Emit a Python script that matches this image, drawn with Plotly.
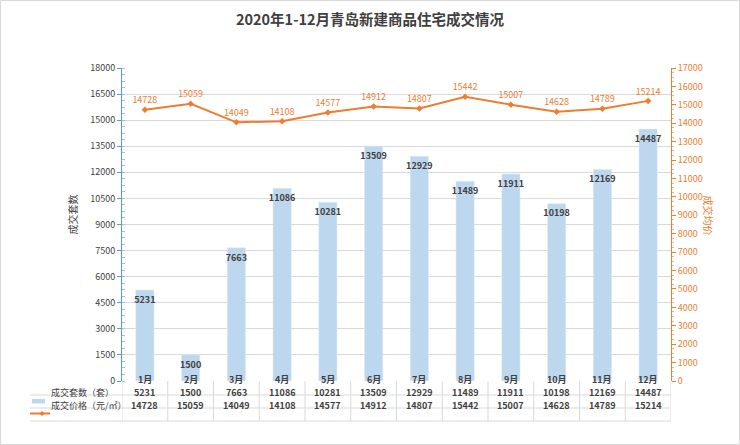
import plotly.graph_objects as go

months = ["1月", "2月", "3月", "4月", "5月", "6月", "7月", "8月", "9月", "10月", "11月", "12月"]
counts = [5231, 1500, 7663, 11086, 10281, 13509, 12929, 11489, 11911, 10198, 12169, 14487]
prices = [14728, 15059, 14049, 14108, 14577, 14912, 14807, 15442, 15007, 14628, 14789, 15214]
count_name = "成交套数（套）"
price_name = "成交价格（元/㎡）"

BAR = "#BDD7EE"
ORANGE = "#ED7D31"
TXT = "#404040"
GRID = "#D9D9D9"
FONT = "Noto Sans CJK SC, Noto Sans, sans-serif"

W, H = 740, 445
L, R, T, B = 122, 69, 68, 64
PW, PH = W - L - R, H - T - B

def py(p):  # pixel y -> paper y
    return (H - B - p) / PH

def px(p):
    return (p - L) / PW

xs = list(range(12))
fig = go.Figure()
fig.add_trace(go.Bar(x=xs, y=counts, name=count_name, marker_color=BAR, width=0.4,
                     hoverinfo="skip"))
fig.add_trace(go.Scatter(x=xs, y=counts, mode="markers+text", text=[f"<b>{v}</b>" for v in counts],
                         marker=dict(size=8, opacity=0), hoverinfo="skip",
                         textposition="bottom center", cliponaxis=False, showlegend=False,
                         textfont=dict(size=9, color=TXT, family=FONT)))
fig.add_trace(go.Scatter(x=xs, y=prices, name=price_name, yaxis="y2",
                         mode="lines+markers+text", line=dict(color=ORANGE, width=2),
                         marker=dict(size=5, color=ORANGE, symbol="diamond"),
                         text=[str(v) for v in prices], textposition="top center",
                         textfont=dict(size=9, color=ORANGE, family=FONT), cliponaxis=False))

shapes = []
annotations = []
rows_y = [388, 401.5, 414]
line_y = [381, 395, 408, 421]
for i, m in enumerate(months):
    annotations.append(dict(x=i, y=py(rows_y[0]), xref="x", yref="paper", text=f"<b>{m}</b>",
                            showarrow=False, font=dict(size=9, color=TXT, family=FONT)))
    annotations.append(dict(x=i, y=py(rows_y[1]), xref="x", yref="paper", text=f"<b>{counts[i]}</b>",
                            showarrow=False, font=dict(size=9, color=TXT, family=FONT)))
    annotations.append(dict(x=i, y=py(rows_y[2]), xref="x", yref="paper", text=f"<b>{prices[i]}</b>",
                            showarrow=False, font=dict(size=9, color=TXT, family=FONT)))
for k in range(13):
    shapes.append(dict(type="line", xref="x", yref="paper", x0=k - 0.5, x1=k - 0.5,
                       y0=py(line_y[0]), y1=py(line_y[-1]), line=dict(color=GRID, width=1)))
for yy in line_y[1:]:
    shapes.append(dict(type="line", xref="paper", yref="paper", x0=px(30), x1=1,
                       y0=py(yy), y1=py(yy), line=dict(color=GRID, width=1)))
# legend keys in table
shapes.append(dict(type="rect", xref="paper", yref="paper", x0=px(32), x1=px(45),
                   y0=py(403.5), y1=py(399), fillcolor=BAR, line=dict(width=0)))
shapes.append(dict(type="line", xref="paper", yref="paper", x0=px(30), x1=px(50),
                   y0=py(413.5), y1=py(413.5), line=dict(color=ORANGE, width=2)))
shapes.append(dict(type="path", xref="paper", yref="paper",
                   path=f"M {px(39.5)} {py(413.5)} L {px(42)} {py(411)} L {px(44.5)} {py(413.5)} L {px(42)} {py(416)} Z",
                   fillcolor=ORANGE, line=dict(width=0)))
annotations.append(dict(x=px(49), y=py(rows_y[1]), xref="paper", yref="paper", text=count_name,
                        showarrow=False, xanchor="left", font=dict(size=9, color=TXT, family=FONT)))
annotations.append(dict(x=px(49), y=py(rows_y[2]), xref="paper", yref="paper", text=price_name,
                        showarrow=False, xanchor="left", font=dict(size=9, color=TXT, family=FONT)))
# axis titles
annotations.append(dict(x=px(62), y=py(215), xref="paper", yref="paper", text="成交套数",
                        showarrow=False, textangle=-90, font=dict(size=10, color=TXT, family=FONT)))
annotations.append(dict(x=px(718), y=py(215), xref="paper", yref="paper", text="成交均价",
                        showarrow=False, textangle=90, font=dict(size=10, color=ORANGE, family=FONT)))
# outer border
shapes.append(dict(type="rect", xref="paper", yref="paper", x0=px(0.5), x1=px(739.5),
                   y0=py(444.5), y1=py(0.5), line=dict(color="#D9D9D9", width=1)))

fig.update_layout(
    width=W, height=H, margin=dict(l=L, r=R, t=T, b=B),
    paper_bgcolor="white", plot_bgcolor="white", showlegend=False,
    title=dict(text="<b>2020年1-12月青岛新建商品住宅成交情况</b>", x=0.5, xanchor="center",
               y=1 - 20 / H, yanchor="middle", font=dict(size=14.5, color=TXT, family=FONT)),
    xaxis=dict(range=[-0.5, 11.5], showticklabels=False, showgrid=False, zeroline=False,
               showline=False, ticks=""),
    yaxis=dict(range=[0, 18000], dtick=1500, tickformat="d", showgrid=True, gridcolor=GRID,
               zeroline=False, showline=True, linecolor="#5B9BD5", linewidth=1,
               ticks="outside", ticklen=4, tickcolor="#5B9BD5",
               minor=dict(dtick=375, ticks="inside", ticklen=3, tickcolor="#9DC3E6", showgrid=False),
               tickfont=dict(size=9, color=TXT, family=FONT)),
    yaxis2=dict(range=[0, 17000], dtick=1000, tickformat="d", overlaying="y", side="right",
                showgrid=False, zeroline=False, showline=True, linecolor=ORANGE, linewidth=1,
                ticks="outside", ticklen=4, tickcolor=ORANGE,
                minor=dict(dtick=250, ticks="outside", ticklen=2, tickcolor="#F4B183"),
                tickfont=dict(size=9, color=ORANGE, family=FONT)),
    shapes=shapes, annotations=annotations, bargap=0.6,
)
fig.write_html("out.html", config={"displayModeBar": False},
               post_script="document.body.style.margin='0px';")
